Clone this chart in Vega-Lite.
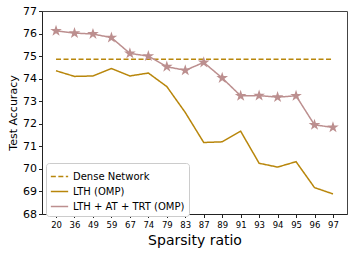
{
  "$schema": "https://vega.github.io/schema/vega-lite/v6.json",
  "width": 305,
  "height": 203,
  "autosize": {"type": "none"},
  "padding": {"left": 42, "top": 11, "right": 7, "bottom": 39},
  "config": {
    "font": "DejaVu Sans",
    "view": {"stroke": "#444", "strokeWidth": 1},
    "axis": {"grid": false, "domainColor": "#222", "tickColor": "#222", "labelColor": "#000", "titleColor": "#000", "titleFontWeight": "normal", "labelFont": "DejaVu Sans", "titleFont": "DejaVu Sans"}
  },
  "data": {"values": [
    {"ratio": "20", "series": "Dense Network", "acc": 74.86},
    {"ratio": "97", "series": "Dense Network", "acc": 74.86},
    {"ratio": "20", "series": "LTH (OMP)", "acc": 74.35},
    {"ratio": "36", "series": "LTH (OMP)", "acc": 74.1},
    {"ratio": "49", "series": "LTH (OMP)", "acc": 74.12},
    {"ratio": "59", "series": "LTH (OMP)", "acc": 74.45},
    {"ratio": "67", "series": "LTH (OMP)", "acc": 74.12},
    {"ratio": "74", "series": "LTH (OMP)", "acc": 74.25},
    {"ratio": "79", "series": "LTH (OMP)", "acc": 73.65},
    {"ratio": "83", "series": "LTH (OMP)", "acc": 72.5},
    {"ratio": "87", "series": "LTH (OMP)", "acc": 71.17},
    {"ratio": "89", "series": "LTH (OMP)", "acc": 71.2},
    {"ratio": "91", "series": "LTH (OMP)", "acc": 71.67},
    {"ratio": "93", "series": "LTH (OMP)", "acc": 70.25},
    {"ratio": "94", "series": "LTH (OMP)", "acc": 70.08},
    {"ratio": "95", "series": "LTH (OMP)", "acc": 70.32},
    {"ratio": "96", "series": "LTH (OMP)", "acc": 69.17},
    {"ratio": "97", "series": "LTH (OMP)", "acc": 68.89},
    {"ratio": "20", "series": "LTH + AT + TRT (OMP)", "acc": 76.12},
    {"ratio": "36", "series": "LTH + AT + TRT (OMP)", "acc": 76.02},
    {"ratio": "49", "series": "LTH + AT + TRT (OMP)", "acc": 75.98},
    {"ratio": "59", "series": "LTH + AT + TRT (OMP)", "acc": 75.82},
    {"ratio": "67", "series": "LTH + AT + TRT (OMP)", "acc": 75.12},
    {"ratio": "74", "series": "LTH + AT + TRT (OMP)", "acc": 75.0},
    {"ratio": "79", "series": "LTH + AT + TRT (OMP)", "acc": 74.53},
    {"ratio": "83", "series": "LTH + AT + TRT (OMP)", "acc": 74.37},
    {"ratio": "87", "series": "LTH + AT + TRT (OMP)", "acc": 74.72},
    {"ratio": "89", "series": "LTH + AT + TRT (OMP)", "acc": 74.03},
    {"ratio": "91", "series": "LTH + AT + TRT (OMP)", "acc": 73.24},
    {"ratio": "93", "series": "LTH + AT + TRT (OMP)", "acc": 73.25},
    {"ratio": "94", "series": "LTH + AT + TRT (OMP)", "acc": 73.18},
    {"ratio": "95", "series": "LTH + AT + TRT (OMP)", "acc": 73.24},
    {"ratio": "96", "series": "LTH + AT + TRT (OMP)", "acc": 71.95},
    {"ratio": "97", "series": "LTH + AT + TRT (OMP)", "acc": 71.84}
  ]},
  "encoding": {
    "x": {
      "field": "ratio", "type": "ordinal", "sort": ["20","36","49","59","67","74","79","83","87","89","91","93","94","95","96","97"],
      "scale": {"type": "point", "padding": 0.76},
      "axis": {"title": "Sparsity ratio", "titleFontSize": 14, "labelFontSize": 8.5, "labelAngle": 0, "tickSize": 3.5, "titlePadding": 4, "labelPadding": 3}
    },
    "y": {
      "field": "acc", "type": "quantitative",
      "scale": {"domain": [68, 77], "nice": false, "zero": false},
      "axis": {"title": "Test Accuracy", "titleFontSize": 11, "labelFontSize": 11, "values": [68,69,70,71,72,73,74,75,76,77], "tickSize": 3.5, "titlePadding": 4, "labelPadding": 2}
    }
  },
  "layer": [
    {
      "mark": {"type": "line", "strokeWidth": 1.5},
      "encoding": {
        "color": {
          "field": "series", "type": "nominal",
          "scale": {"domain": ["Dense Network", "LTH (OMP)", "LTH + AT + TRT (OMP)"], "range": ["#b8860b", "#b8860b", "#bc8f8f"]},
          "legend": {"title": null, "orient": "none", "legendX": 4, "legendY": 152, "symbolType": "stroke", "symbolSize": 300, "symbolStrokeWidth": 1.5, "labelFontSize": 10, "labelFont": "DejaVu Sans", "strokeColor": "#ccc", "fillColor": "white", "padding": 4, "cornerRadius": 3, "rowPadding": 0}
        },
        "strokeDash": {
          "field": "series", "type": "nominal",
          "scale": {"domain": ["Dense Network", "LTH (OMP)", "LTH + AT + TRT (OMP)"], "range": [[5, 2.5], [1, 0], [1, 0]]},
          "legend": {"title": null, "orient": "none", "legendX": 4, "legendY": 152, "symbolType": "stroke", "symbolSize": 300, "symbolStrokeWidth": 1.5, "labelFontSize": 10, "labelFont": "DejaVu Sans", "strokeColor": "#ccc", "fillColor": "white", "padding": 4, "cornerRadius": 3, "rowPadding": 0}
        }
      }
    },
    {
      "transform": [{"filter": "datum.series === 'LTH + AT + TRT (OMP)'"}],
      "mark": {"type": "point", "filled": true, "opacity": 1, "color": "#bc8f8f", "size": 150, "shape": "M0,-1L0.2245,-0.309L0.951,-0.309L0.363,0.118L0.588,0.809L0,0.382L-0.588,0.809L-0.363,0.118L-0.951,-0.309L-0.2245,-0.309Z"}
    }
  ]
}
